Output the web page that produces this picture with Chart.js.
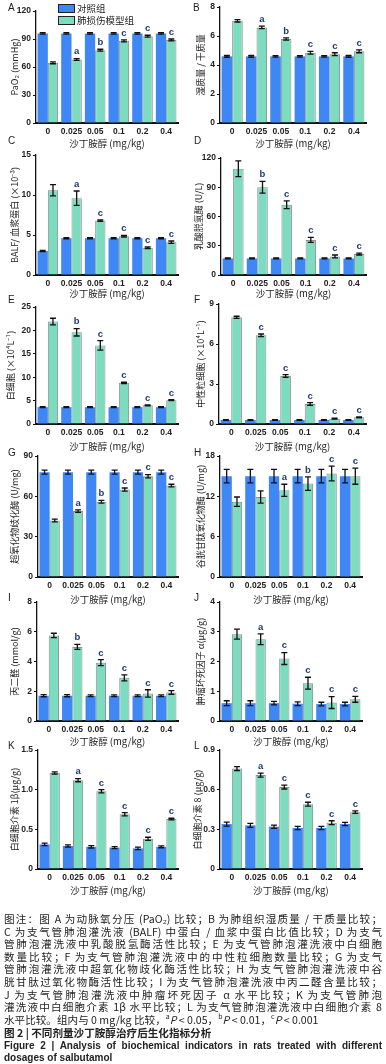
<!DOCTYPE html>
<html>
<head>
<meta charset="utf-8">
<script src="https://cdn.jsdelivr.net/npm/chart.js@4.4.0/dist/chart.umd.min.js"></script>
<style>
  body { margin: 0; background: #fff; width: 386px; height: 1064px; position: relative; overflow: hidden; font-family: "Noto Sans CJK SC", sans-serif; }
  .panel { position: absolute; }
  .tag { position: absolute; font: 10px "Liberation Sans", Arial, sans-serif; color: #222; }
  .legend { position: absolute; left: 58px; font-size: 9.5px; color: #222; line-height: 10px; }
  .legend div { position: relative; height: 11px; margin-bottom: 1px; padding-left: 19px; white-space: nowrap; }
  .legend span { position: absolute; left: 0; top: 1px; width: 15px; height: 7px; border: 1.2px solid #222; }
  .cap { position: absolute; left: 4px; width: 378px; font-size: 10.6px; line-height: 12.5px; height: 12.5px; color: #222; text-align: justify; text-align-last: justify; white-space: nowrap; }
  .cap.last { text-align-last: left; }
  .cap sup { font-size: 7px; line-height: 0; }
  .bold { font-weight: bold; }
</style>
</head>
<body>

<script>
const doses = ['0', '0.025', '0.05', '0.1', '0.2', '0.4'];
const groupNames = ['对照组', '肺损伤模型组'];
const xTitle = '沙丁胺醇 (mg/kg)';

// A - PaO2
const paoCtrl = [96, 96, 96, 96, 96, 96];
const paoCtrlErr = [0.8, 0.8, 0.8, 0.8, 0.8, 0.8];
const paoModel = [64.5, 68, 78, 88, 93, 89];
const paoModelErr = [1, 1, 1, 1, 1, 1];
const paoSig = ['', 'a', 'b', 'c', 'c', 'c'];
const paoTicks = ['0', '30', '60', '90', '120'];

// B - wet / dry
const wdCtrl = [4.6, 4.6, 4.6, 4.6, 4.6, 4.6];
const wdCtrlErr = [0.06, 0.06, 0.05, 0.05, 0.05, 0.06];
const wdModel = [7.05, 6.6, 5.8, 4.85, 4.75, 4.95];
const wdModelErr = [0.08, 0.08, 0.08, 0.1, 0.1, 0.1];
const wdSig = ['', 'a', 'b', 'c', 'c', 'c'];
const wdTicks = ['0', '2', '4', '6', '8'];

// C - BALF / plasma protein
const protCtrl = [3.0, 4.6, 4.6, 4.6, 4.6, 4.6];
const protCtrlErr = [0.08, 0.08, 0.08, 0.08, 0.08, 0.08];
const protModel = [10.6, 9.6, 6.8, 4.85, 3.4, 4.1];
const protModelErr = [0.7, 0.9, 0.1, 0.1, 0.1, 0.15];
const protSig = ['', 'a', 'c', 'c', 'c', 'c'];
const protTicks = ['0', '5', '10', '15'];

// D - LDH
const ldhCtrl = [17, 17, 17, 17, 17, 17];
const ldhCtrlErr = [0.5, 0.5, 0.5, 0.5, 0.5, 0.5];
const ldhModel = [109, 90, 72, 36, 19, 21.5];
const ldhModelErr = [8, 6, 4, 2.5, 1.5, 1];
const ldhSig = ['', 'b', 'c', 'c', 'c', 'c'];
const ldhTicks = ['0', '30', '60', '90', '120'];

// E - white cells
const wbcCtrl = [3.6, 3.6, 3.6, 3.6, 3.6, 3.6];
const wbcCtrlErr = [0.1, 0.1, 0.1, 0.1, 0.1, 0.1];
const wbcModel = [21.9, 19.6, 16.8, 8.8, 4.0, 5.1];
const wbcModelErr = [0.7, 0.8, 1.0, 0.15, 0.1, 0.1];
const wbcSig = ['', 'b', 'c', 'c', 'c', 'c'];
const wbcTicks = ['0', '5', '10', '15', '20', '25'];

// F - neutrophils
const neuCtrl = [0.3, 0.3, 0.3, 0.3, 0.3, 0.3];
const neuCtrlErr = [0.02, 0.02, 0.02, 0.02, 0.02, 0.02];
const neuModel = [8.0, 6.65, 3.6, 1.5, 0.4, 0.5];
const neuModelErr = [0.08, 0.1, 0.1, 0.1, 0.03, 0.03];
const neuSig = ['', 'c', 'c', 'c', 'c', 'c'];
const neuTicks = ['0', '3', '6', '9'];

// G - SOD
const sodCtrl = [78, 78, 78, 78, 78, 78];
const sodCtrlErr = [1.5, 1.5, 1.5, 1.5, 1.5, 1.5];
const sodModel = [42, 49, 56, 65, 75, 68];
const sodModelErr = [1, 1, 1, 1.2, 1.2, 1];
const sodSig = ['', 'a', 'b', 'c', 'c', 'c'];
const sodTicks = ['0', '30', '60', '90'];

// H - GSH-Px
const gshCtrl = [15, 15, 15, 15, 15, 15];
const gshCtrlErr = [1, 1, 1, 1, 1, 1];
const gshModel = [11.2, 11.9, 12.9, 13.9, 15.4, 15.0];
const gshModelErr = [0.7, 0.9, 0.9, 1.0, 1.1, 1.2];
const gshSig = ['', '', 'a', 'b', 'c', 'c'];
const gshTicks = ['0', '6', '12', '18'];

// I - MDA
const mdaCtrl = [1.7, 1.7, 1.7, 1.7, 1.7, 1.7];
const mdaCtrlErr = [0.07, 0.07, 0.06, 0.06, 0.06, 0.06];
const mdaModel = [5.75, 4.98, 3.92, 2.9, 1.85, 1.92];
const mdaModelErr = [0.15, 0.17, 0.2, 0.2, 0.25, 0.12];
const mdaSig = ['', 'b', 'c', 'c', 'c', 'c'];
const mdaTicks = ['0', '2', '4', '6', '8'];

// J - TNF-alpha
const tnfCtrl = [0.6, 0.6, 0.6, 0.58, 0.57, 0.57];
const tnfCtrlErr = [0.08, 0.08, 0.06, 0.06, 0.06, 0.06];
const tnfModel = [2.92, 2.75, 2.1, 1.27, 0.62, 0.73];
const tnfModelErr = [0.17, 0.18, 0.2, 0.2, 0.2, 0.1];
const tnfSig = ['', 'a', 'c', 'c', 'c', 'c'];
const tnfTicks = ['0', '1', '2', '3', '4'];

// K - IL-1beta
const il1Ctrl = [0.31, 0.29, 0.28, 0.27, 0.26, 0.28];
const il1CtrlErr = [0.015, 0.015, 0.015, 0.012, 0.015, 0.012];
const il1Model = [1.21, 1.12, 0.98, 0.69, 0.38, 0.63];
const il1ModelErr = [0.015, 0.02, 0.02, 0.02, 0.02, 0.01];
const il1Sig = ['', 'a', 'c', 'c', 'c', 'c'];
const il1Ticks = ['0', '0.5', '1.0', '1.5'];

// L - IL-8
const il8Ctrl = [0.34, 0.33, 0.32, 0.31, 0.31, 0.34];
const il8CtrlErr = [0.015, 0.015, 0.012, 0.012, 0.012, 0.012];
const il8Model = [0.76, 0.71, 0.62, 0.49, 0.35, 0.43];
const il8ModelErr = [0.015, 0.015, 0.015, 0.015, 0.015, 0.01];
const il8Sig = ['', 'a', 'c', 'c', 'c', 'c'];
const il8Ticks = ['0', '0.3', '0.6', '0.9'];

// layout of every panel (page pixels)
const panels = [
    { tag: 'A', left: 0,   top: 0,   bottom: 150, xl: 36,  xr: 178, yt: 11,  yb: 123, tx: 15,  yTitle: 'PaO₂ (mmHg)',          ctrl: paoCtrl, ctrlErr: paoCtrlErr, model: paoModel, modelErr: paoModelErr, sig: paoSig, ticks: paoTicks },
    { tag: 'B', left: 190, top: 0,   bottom: 150, xl: 220, xr: 366, yt: 7,   yb: 123, tx: 201, yTitle: '湿质量 / 干质量',       ctrl: wdCtrl, ctrlErr: wdCtrlErr, model: wdModel, modelErr: wdModelErr, sig: wdSig, ticks: wdTicks },
    { tag: 'C', left: 0,   top: 145, bottom: 300, xl: 36,  xr: 178, yt: 155, yb: 275, tx: 15,  yTitle: 'BALF/ 血浆蛋白 (×10⁻³)', ctrl: protCtrl, ctrlErr: protCtrlErr, model: protModel, modelErr: protModelErr, sig: protSig, ticks: protTicks },
    { tag: 'D', left: 190, top: 146, bottom: 300, xl: 221, xr: 366, yt: 158, yb: 275, tx: 199, yTitle: '乳酸脱氢酶 (U/L)',      ctrl: ldhCtrl, ctrlErr: ldhCtrlErr, model: ldhModel, modelErr: ldhModelErr, sig: ldhSig, ticks: ldhTicks },
    { tag: 'E', left: 0,   top: 297, bottom: 453, xl: 36,  xr: 178, yt: 307, yb: 424, tx: 11,  yTitle: '白细胞 (×10⁴L⁻¹)',      ctrl: wbcCtrl, ctrlErr: wbcCtrlErr, model: wbcModel, modelErr: wbcModelErr, sig: wbcSig, ticks: wbcTicks },
    { tag: 'F', left: 190, top: 294, bottom: 453, xl: 219, xr: 366, yt: 304, yb: 424, tx: 201, yTitle: '中性粒细胞 (×10⁴L⁻¹)',  ctrl: neuCtrl, ctrlErr: neuCtrlErr, model: neuModel, modelErr: neuModelErr, sig: neuSig, ticks: neuTicks },
    { tag: 'G', left: 0,   top: 446, bottom: 606, xl: 38,  xr: 178, yt: 456, yb: 577, tx: 15,  yTitle: '超氧化物歧化酶 (U/mg)', ctrl: sodCtrl, ctrlErr: sodCtrlErr, model: sodModel, modelErr: sodModelErr, sig: sodSig, ticks: sodTicks },
    { tag: 'H', left: 190, top: 446, bottom: 606, xl: 220, xr: 362, yt: 456, yb: 577, tx: 201, yTitle: '谷胱甘肽氧化物酶 (U/mg)', ctrl: gshCtrl, ctrlErr: gshCtrlErr, model: gshModel, modelErr: gshModelErr, sig: gshSig, ticks: gshTicks },
    { tag: 'I', left: 0,   top: 592, bottom: 748, xl: 37,  xr: 178, yt: 602, yb: 721, tx: 15,  yTitle: '丙二醛 (mmol/g)',       ctrl: mdaCtrl, ctrlErr: mdaCtrlErr, model: mdaModel, modelErr: mdaModelErr, sig: mdaSig, ticks: mdaTicks },
    { tag: 'J', left: 190, top: 592, bottom: 748, xl: 220, xr: 362, yt: 602, yb: 721, tx: 201, yTitle: '肿瘤坏死因子 α(μg/g)',  ctrl: tnfCtrl, ctrlErr: tnfCtrlErr, model: tnfModel, modelErr: tnfModelErr, sig: tnfSig, ticks: tnfTicks },
    { tag: 'K', left: 0,   top: 740, bottom: 897, xl: 38,  xr: 178, yt: 750, yb: 869, tx: 15,  yTitle: '白细胞介素 1β(μg/g)',   ctrl: il1Ctrl, ctrlErr: il1CtrlErr, model: il1Model, modelErr: il1ModelErr, sig: il1Sig, ticks: il1Ticks },
    { tag: 'L', left: 190, top: 740, bottom: 897, xl: 220, xr: 362, yt: 750, yb: 869, tx: 198, yTitle: '白细胞介素 8 (μg/g)',   ctrl: il8Ctrl, ctrlErr: il8CtrlErr, model: il8Model, modelErr: il8ModelErr, sig: il8Sig, ticks: il8Ticks }
];

const tagPos = { A: [8, 2], B: [193, 2], C: [8, 135], D: [194, 135], E: [8, 294], F: [194, 294], G: [8, 447], H: [194, 447], I: [8, 592], J: [194, 592], K: [8, 740], L: [194, 740] };

const tickFont = { family: '"Liberation Sans", Arial, sans-serif', size: 8.5, weight: 'bold' };
const titleFont = { family: '"Noto Sans CJK SC", sans-serif', size: 9 };

// error bars and significance letters
const errorBars = {
    id: 'errorBars',
    afterDatasetsDraw(chart) {
        const ctx = chart.ctx;
        const y = chart.scales.y;
        ctx.save();
        chart.data.datasets.forEach((ds, di) => {
            const meta = chart.getDatasetMeta(di);
            meta.data.forEach((bar, i) => {
                const v = ds.data[i], e = ds.errors[i];
                const hi = y.getPixelForValue(v + e);
                const lo = y.getPixelForValue(v - e);
                ctx.strokeStyle = '#111';
                ctx.lineWidth = 1.3;
                ctx.beginPath();
                ctx.moveTo(bar.x, hi); ctx.lineTo(bar.x, lo);
                ctx.moveTo(bar.x - 3, hi); ctx.lineTo(bar.x + 3, hi);
                ctx.moveTo(bar.x - 3, lo); ctx.lineTo(bar.x + 3, lo);
                ctx.stroke();
                if (ds.sig && ds.sig[i]) {
                    ctx.fillStyle = '#1d3a7a';
                    ctx.font = 'bold 9.5px "Liberation Sans", Arial, sans-serif';
                    ctx.textAlign = 'center';
                    ctx.textBaseline = 'bottom';
                    ctx.fillText(ds.sig[i], bar.x, hi - 2);
                }
            });
        });
        ctx.restore();
    }
};

panels.forEach(p => {
    const w = (p.left === 0 ? 190 : 196);
    const h = p.bottom - p.top;
    const box = document.createElement('div');
    box.className = 'panel';
    box.style.left = p.left + 'px';
    box.style.top = p.top + 'px';
    const cv = document.createElement('canvas');
    cv.width = w; cv.height = h;
    cv.style.width = w + 'px'; cv.style.height = h + 'px';
    box.appendChild(cv);
    document.body.appendChild(box);

    const tag = document.createElement('div');
    tag.className = 'tag';
    tag.textContent = p.tag;
    tag.style.left = tagPos[p.tag][0] + 'px';
    tag.style.top = tagPos[p.tag][1] + 'px';
    document.body.appendChild(tag);

    const max = Number(p.ticks[p.ticks.length - 1]);
    new Chart(cv, {
        type: 'bar',
        data: {
            labels: doses,
            datasets: [{
                label: groupNames[0],
                data: p.ctrl,
                errors: p.ctrlErr,
                backgroundColor: '#3f87f4',
                borderWidth: 0,
                categoryPercentage: 0.87,
                barPercentage: 1.0
            }, {
                label: groupNames[1],
                data: p.model,
                errors: p.modelErr,
                sig: p.sig,
                backgroundColor: '#7ddcc0',
                borderColor: '#8a8f8c',
                borderWidth: 1,
                categoryPercentage: 0.87,
                barPercentage: 1.0
            }]
        },
        options: {
            responsive: false,
            animation: false,
            layout: { padding: { top: p.yt - p.top, right: p.left + w - p.xr, left: 0, bottom: 0 } },
            plugins: { legend: { display: false }, tooltip: { enabled: false } },
            scales: {
                x: {
                    grid: { display: false, drawTicks: false },
                    border: { color: '#111', width: 2 },
                    ticks: { font: tickFont, color: '#222', padding: 4, maxRotation: 0, autoSkip: false },
                    title: { display: true, text: xTitle, font: { family: '"Noto Sans CJK SC", sans-serif', size: 9.5 }, color: '#222', padding: { top: 0, bottom: 1 } },
                    afterFit: s => { s.height = p.bottom - p.yb; }
                },
                y: {
                    min: 0,
                    max: max,
                    grid: { drawOnChartArea: false, color: '#111', tickLength: 3, lineWidth: 1 },
                    border: { color: '#111', width: 1.3 },
                    ticks: { font: tickFont, color: '#222', padding: 2, callback: (v, i) => p.ticks[i] },
                    afterBuildTicks: s => { s.ticks = p.ticks.map(t => ({ value: Number(t) })); },
                    title: { display: true, text: p.yTitle, font: titleFont, color: '#222', padding: { top: p.tx - p.left - 5.4, bottom: 0 } },
                    afterFit: s => { s.width = p.xl - p.left; }
                }
            }
        },
        plugins: [errorBars]
    });
});
</script>

<div class="legend" style="top:3px;">
  <div><span style="background:#3f87f4;"></span>对照组</div>
  <div><span style="background:#7ddcc0;"></span>肺损伤模型组</div>
</div>

<div class="cap" style="top:913px;">图注：图 A 为动脉氧分压 (PaO₂) 比较；B 为肺组织湿质量 / 干质量比较；</div>
<div class="cap" style="top:926px;">C 为支气管肺泡灌洗液 (BALF) 中蛋白 / 血浆中蛋白比值比较；D 为支气</div>
<div class="cap" style="top:938px;">管肺泡灌洗液中乳酸脱氢酶活性比较；E 为支气管肺泡灌洗液中白细胞</div>
<div class="cap" style="top:951px;">数量比较；F 为支气管肺泡灌洗液中的中性粒细胞数量比较；G 为支气</div>
<div class="cap" style="top:963px;">管肺泡灌洗液中超氧化物歧化酶活性比较；H 为支气管肺泡灌洗液中谷</div>
<div class="cap" style="top:976px;">胱甘肽过氧化物酶活性比较；I 为支气管肺泡灌洗液中丙二醛含量比较；</div>
<div class="cap" style="top:989px;">J 为支气管肺泡灌洗液中肿瘤坏死因子 α 水平比较；K 为支气管肺泡</div>
<div class="cap" style="top:1001px;">灌洗液中白细胞介素 1β 水平比较；L 为支气管肺泡灌洗液中白细胞介素 8</div>
<div class="cap last" style="top:1014px;">水平比较。组内与 0 mg/kg 比较，<sup>a</sup><i>P</i> &lt; 0.05，<sup>b</sup><i>P</i> &lt; 0.01，<sup>c</sup><i>P</i> &lt; 0.001</div>
<div class="cap last bold" style="top:1027px;">图 2 | 不同剂量沙丁胺醇治疗后生化指标分析</div>
<div class="cap bold" style="top:1040px; font-family:'Liberation Sans', Arial, sans-serif; font-size:10px;">Figure 2 | Analysis of biochemical indicators in rats treated with different</div>
<div class="cap last bold" style="top:1052px; font-family:'Liberation Sans', Arial, sans-serif; font-size:10px;">dosages of salbutamol</div>

</body>
</html>
